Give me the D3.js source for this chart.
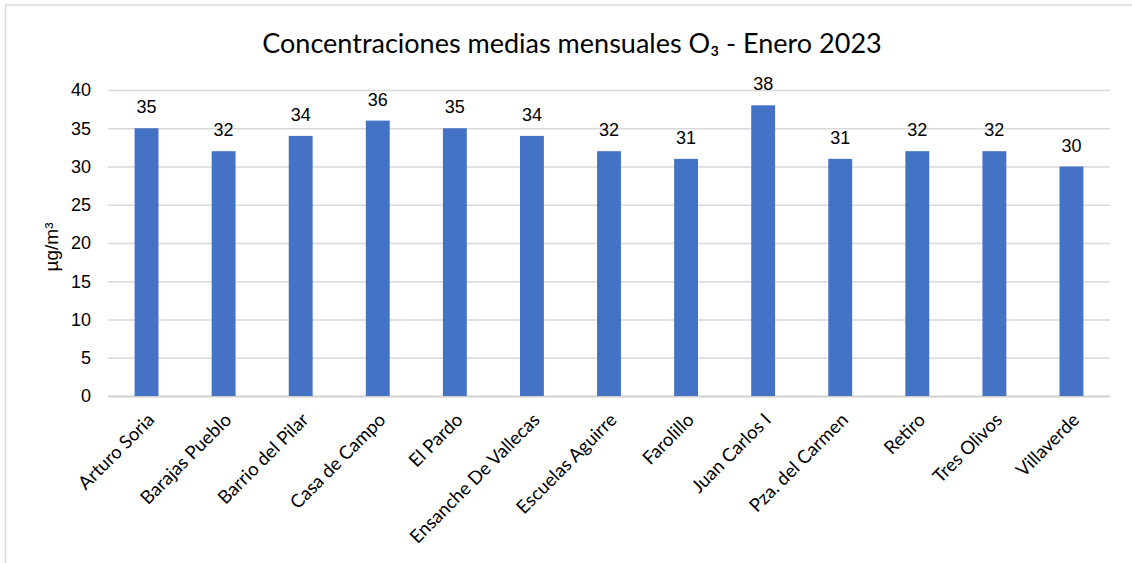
<!DOCTYPE html>
<html><head><meta charset="utf-8">
<script src="https://cdn.jsdelivr.net/npm/d3@7/dist/d3.min.js"></script>
<style>body{margin:0;background:#fff;overflow:hidden}</style>
</head><body>
<svg id="c" width="1132" height="563"></svg>
<script>
const categories = ["Arturo Soria","Barajas Pueblo","Barrio del Pilar","Casa de Campo","El Pardo","Ensanche De Vallecas","Escuelas Aguirre","Farolillo","Juan Carlos I","Pza. del Carmen","Retiro","Tres Olivos","Villaverde"];
const values = [35,32,34,36,35,34,32,31,38,31,32,32,30];
const yTicks = [0,5,10,15,20,25,30,35,40];
const title = "Concentraciones medias mensuales O\u2083 - Enero 2023";
const yLabel = "\u00b5g/m\u00b3";

(function(){
const svg = d3.select("#c");
svg.append("rect").attr("x",5.5).attr("y",5).attr("width",1140).attr("height",570)
  .attr("fill","#fff").attr("stroke","#d9d9d9").attr("stroke-width",1.5);

const pl=108, pr=1110, pt=90, pb=396;
const x = d3.scaleBand().domain(categories).range([pl,pr]).paddingInner(0.69).paddingOuter(0.345);
const y = d3.scaleLinear().domain([0,40]).range([pb,pt]);

const grid = svg.append("g");
grid.selectAll("line").data(yTicks).join("line")
  .attr("x1",pl).attr("x2",pr)
  .attr("y1",d=>y(d)+0.5).attr("y2",d=>y(d)+0.5)
  .attr("stroke",d=>d===0?"#d0d0d0":"#d9d9d9").attr("stroke-width",d=>d===0?2:1.5);

const yAxis = svg.append("g").attr("transform",`translate(${pl},0)`)
  .call(d3.axisLeft(y).tickValues(yTicks).tickSize(0).tickPadding(17));
yAxis.select(".domain").remove();
yAxis.selectAll("text").attr("font-family","Liberation Sans, Arial, sans-serif").attr("font-size",18).attr("fill","#000");

svg.append("g").selectAll("rect").data(values).join("rect")
  .attr("x",(d,i)=>x(categories[i])).attr("width",x.bandwidth())
  .attr("y",d=>y(d)).attr("height",d=>y(0)-y(d)).attr("fill","#4472c4");

svg.append("g").selectAll("text").data(values).join("text")
  .attr("x",(d,i)=>x(categories[i])+x.bandwidth()/2).attr("y",d=>y(d)-15)
  .attr("text-anchor","middle").attr("font-family","Liberation Sans, Arial, sans-serif")
  .attr("font-size",18).attr("fill","#000").text(d=>d);

const xAxis = svg.append("g").attr("transform",`translate(0,${pb})`)
  .call(d3.axisBottom(x).tickSize(0));
xAxis.select(".domain").remove();
xAxis.selectAll("text")
  .attr("font-family","Lato, sans-serif").attr("font-size",18.5).attr("fill","#000")
  .attr("text-anchor","end").attr("dy",null).attr("y",0)
  .attr("transform","translate(9,25) rotate(-45)");

svg.append("text").attr("x",572).attr("y",53).attr("text-anchor","middle")
  .attr("font-family","Lato, sans-serif").attr("font-size",27).attr("fill","#000").text(title);

svg.append("text").attr("transform","translate(58,247) rotate(-90)").attr("text-anchor","middle")
  .attr("font-family","Liberation Sans, Arial, sans-serif").attr("font-size",19).attr("fill","#000").text(yLabel);
})();
</script>
</body></html>
